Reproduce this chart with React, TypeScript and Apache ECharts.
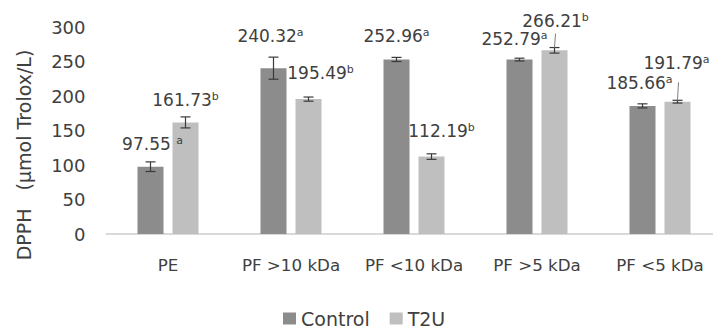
import React, { useEffect, useRef } from "react";
import * as echarts from "echarts";

const categories = ["PE", "PF >10 kDa", "PF <10 kDa", "PF >5 kDa", "PF <5 kDa"];
const controlValues = [97.55, 240.32, 252.96, 252.79, 185.66];
const t2uValues = [161.73, 195.49, 112.19, 266.21, 191.79];
const controlErrors = [7, 16, 3, 2, 3];
const t2uErrors = [8, 3, 4, 4, 2];
const controlLetters = ["a", "a", "a", "a", "a"];
const t2uLetters = ["b", "b", "b", "b", "a"];
const yMin = 0;
const yMax = 300;
const yInterval = 50;

// layout / styling (not data)
const controlLabelOffsets = [[2, -14], [-3, -23], [0, -14], [-5, -12], [-3, -14]];
const t2uLabelOffsets = [[0, -13], [12, -17], [10, -17], [1, -20], [-1, -30]];
const controlLetterGap = [true, false, false, false, false];
const t2uLeaders = [0, 0, 0, 14, 18];

const BAR_W = 26;
const BAR_GAP = 9;
const SHIFT = (BAR_W + BAR_GAP) / 2;
const TEXT = "#404040";
const C_DARK = "#8c8c8c";
const C_LIGHT = "#bfbfbf";
const FONT = "DejaVu Sans";

function labelFor(v: number, letter: string, gap: boolean) {
  return `{v|${v.toFixed(2)}${gap ? " " : ""}}{s|${letter}}`;
}

const rich = {
  v: { fontSize: 17, fontFamily: FONT, color: TEXT, lineHeight: 18 },
  s: { fontSize: 11, fontFamily: FONT, color: TEXT, verticalAlign: "top", lineHeight: 12 },
};

export default function App() {
  const ref = useRef<HTMLDivElement>(null);
  useEffect(() => {
    document.body.style.margin = "0";
    if (!ref.current) return;
    const chart = echarts.init(ref.current, null, { renderer: "svg" });

    const makeBarData = (vals: number[], letters: string[], offs: number[][], gaps: boolean[] | null) =>
      vals.map((v, i) => ({
        value: v,
        label: {
          formatter: labelFor(v, letters[i], gaps ? gaps[i] : false),
          offset: offs[i],
        },
      }));

    const errRender = (shift: number) => (params: any, api: any) => {
      const i = api.value(0);
      const v = api.value(1);
      const e = api.value(2);
      const lead = api.value(3);
      const x = api.coord([i, v])[0] + shift;
      const yTop = api.coord([i, v + e])[1];
      const yBot = api.coord([i, v - e])[1];
      const style = { stroke: "#3a3a3a", lineWidth: 1.2 };
      const children: any[] = [
        { type: "line", shape: { x1: x, y1: yTop, x2: x, y2: yBot }, style },
        { type: "line", shape: { x1: x - 5, y1: yTop, x2: x + 5, y2: yTop }, style },
        { type: "line", shape: { x1: x - 5, y1: yBot, x2: x + 5, y2: yBot }, style },
      ];
      if (lead > 0) {
        children.push({
          type: "line",
          shape: { x1: x, y1: yTop, x2: x + 1, y2: yTop - lead },
          style: { stroke: "#7f7f7f", lineWidth: 1 },
        });
      }
      return { type: "group", children };
    };

    chart.setOption({
      animation: false,
      backgroundColor: "#ffffff",
      grid: { left: 106.5, right: -8.5, top: 27, bottom: 95, outerBoundsMode: "none" },
      legend: {
        data: ["Control", "T2U"],
        left: 283,
        top: 309,
        padding: 0,
        itemWidth: 13,
        itemHeight: 12,
        itemGap: 20,
        icon: "rect",
        textStyle: { fontFamily: FONT, fontSize: 19, color: TEXT, lineHeight: 17 },
      },
      xAxis: {
        type: "category",
        data: categories,
        axisLine: { lineStyle: { color: "#d9d9d9", width: 2 } },
        axisTick: { show: false },
        axisLabel: { fontFamily: FONT, fontSize: 16.7, color: TEXT, margin: 22, interval: 0 },
      },
      yAxis: {
        type: "value",
        min: yMin,
        max: yMax,
        interval: yInterval,
        axisLine: { show: false },
        axisTick: { show: false },
        splitLine: { show: false },
        axisLabel: { fontFamily: FONT, fontSize: 18, color: TEXT, margin: 21 },
      },
      graphic: [
        {
          type: "text",
          x: 24,
          y: 155,
          rotation: Math.PI / 2,
          style: {
            text: "DPPH   (μmol Trolox/L)",
            fontFamily: FONT,
            fontSize: 19,
            fill: TEXT,
            textAlign: "center",
            textVerticalAlign: "middle",
          },
        },
      ],
      series: [
        {
          name: "Control",
          type: "bar",
          barWidth: BAR_W,
          barGap: `${(BAR_GAP / BAR_W) * 100}%`,
          itemStyle: { color: C_DARK },
          label: { show: true, position: "top", distance: 0, rich },
          data: makeBarData(controlValues, controlLetters, controlLabelOffsets, controlLetterGap),
        },
        {
          name: "T2U",
          type: "bar",
          barWidth: BAR_W,
          itemStyle: { color: C_LIGHT },
          label: { show: true, position: "top", distance: 0, rich },
          data: makeBarData(t2uValues, t2uLetters, t2uLabelOffsets, null),
        },
        {
          type: "custom",
          name: "ctrlErr",
          renderItem: errRender(-SHIFT),
          encode: { x: 0, y: 1 },
          z: 10,
          data: controlValues.map((v, i) => [i, v, controlErrors[i], 0]),
        },
        {
          type: "custom",
          name: "t2uErr",
          renderItem: errRender(SHIFT),
          encode: { x: 0, y: 1 },
          z: 10,
          data: t2uValues.map((v, i) => [i, v, t2uErrors[i], t2uLeaders[i]]),
        },
      ],
    });
    return () => chart.dispose();
  }, []);
  return <div ref={ref} style={{ width: 713, height: 329 }} />;
}
